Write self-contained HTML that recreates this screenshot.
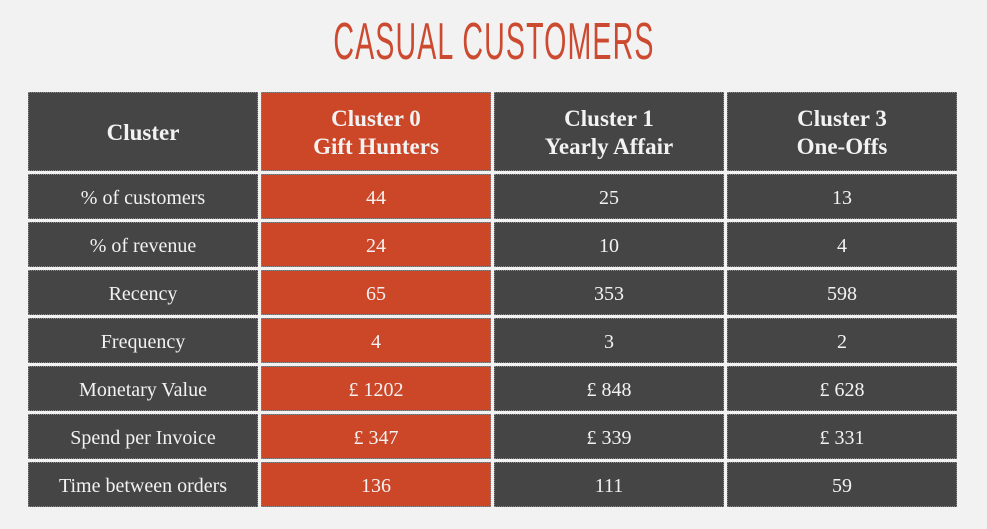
<!DOCTYPE html>
<html><head><meta charset="utf-8"><style>
body{margin:0;width:987px;height:529px;background:#f2f2f2;position:relative;overflow:hidden;font-family:"Liberation Serif","DejaVu Serif",serif}
.t{position:absolute;left:0;width:987px;top:12px;text-align:center;color:#cc4a30;font-family:"Liberation Sans",sans-serif;font-size:52px;letter-spacing:2px}
.t span{display:inline-block;transform:scaleX(0.55)}
.c{position:absolute;background:#454545;color:#f2f2f2;display:flex;align-items:center;justify-content:center;text-align:center;font-size:20px;box-sizing:border-box;border:1px dotted #888;padding-top:3px}
.r{background:#cc4628}
.h{font-size:23px;line-height:28px;font-weight:bold}
</style></head><body>
<div class="t"><span>CASUAL CUSTOMERS</span></div>
<div id="tbl"></div>
<script>
const headers=["Cluster","Cluster 0<br>Gift Hunters","Cluster 1<br>Yearly Affair","Cluster 3<br>One-Offs"];
const labels=["% of customers","% of revenue","Recency","Frequency","Monetary Value","Spend per Invoice","Time between orders"];
const c0=["44","24","65","4","£ 1202","£ 347","136"];
const c1=["25","10","353","3","£ 848","£ 339","111"];
const c3=["13","4","598","2","£ 628","£ 331","59"];
const xs=[28,261,494,727],w=230;
const tbl=document.getElementById('tbl');
function cell(x,y,h,html,cls,name){
 const d=document.createElement('div');
 d.className='c '+cls;
 d.style.left=x+'px';d.style.top=y+'px';d.style.width=w+'px';d.style.height=h+'px';
 d.innerHTML=html;
 
 
 tbl.appendChild(d);
}
headers.forEach((h,i)=>cell(xs[i],92,79,h,'h'+(i==1?' r':''),'header-cell'));
const cols=[labels,c0,c1,c3];
labels.forEach((l,r)=>{
 const y=174+r*48;
 cols.forEach((col,i)=>cell(xs[i],y,45,col[r],i==1?'r':'','table-cell'));
});
</script>
</body></html>
